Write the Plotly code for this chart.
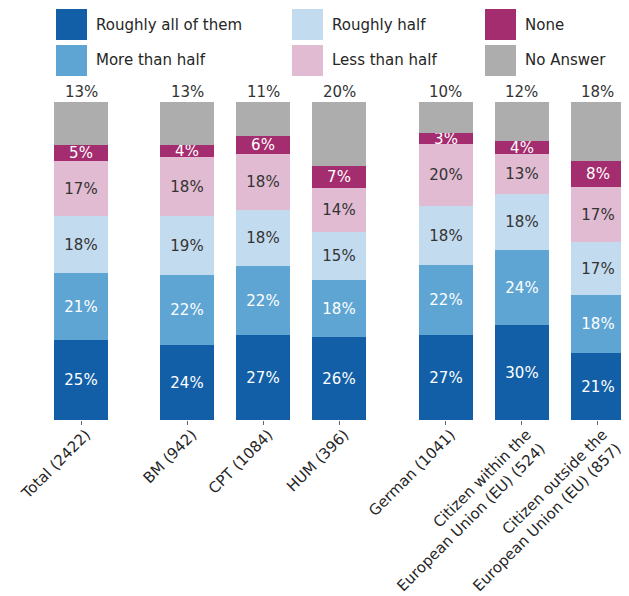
import plotly.graph_objs as go

# categories, grouped (gap between groups)
groups = [
    ["Total (2422)"],
    ["BM (942)", "CPT (1084)", "HUM (396)"],
    ["German (1041)", "Citizen within the<br>European Union (EU) (524)",
     "Citizen outside the<br>European Union (EU) (857)"],
]

series_names = ["Roughly all of them", "More than half", "Roughly half",
                "Less than half", "None", "No Answer"]

# percent values (bottom to top of each stack)
roughly_all = [25.2, 23.6, 26.7, 26.1, 26.6, 29.9, 21.1]
more_than_half = [21.1, 22.0, 21.8, 17.9, 22.3, 23.6, 18.2]
roughly_half = [17.9, 18.6, 17.6, 15.1, 18.4, 17.6, 16.8]
less_than_half = [17.3, 18.4, 17.6, 13.8, 19.6, 12.6, 17.3]
none_ = [5.0, 4.0, 5.6, 6.9, 3.4, 4.1, 8.2]
no_answer = [13.4, 13.4, 10.7, 20.1, 9.7, 12.2, 18.4]

series_values = [roughly_all, more_than_half, roughly_half,
                 less_than_half, none_, no_answer]

colors = ["#125FA8", "#5EA5D3", "#C3DBEF", "#E0BBD1", "#A32D6E", "#ADADAD"]
text_colors = ["white", "white", "#333333", "#333333", "white", "#333333"]

# page body has an 8px margin, so the figure is drawn 8px smaller
OFF = 8
W, H = 629 - OFF, 596 - OFF
TOP, BOTTOM = 102 - OFF, 176  # plot area margins in px
FONT = "DejaVu Sans"

# x positions: one unit per bar, extra gap between groups
labels, xpos = [], []
i = 0
for g, grp in enumerate(groups):
    for name in grp:
        labels.append(name)
        xpos.append(i + 0.4 * g)
        i += 1

fig = go.Figure()
for k, (name, vals) in enumerate(zip(series_names, series_values)):
    show_text = k < 5  # top segment label is drawn above the bar
    fig.add_trace(go.Bar(
        x=xpos,
        y=vals,
        name=name,
        width=0.71,
        marker=dict(color=colors[k], line=dict(width=0)),
        text=["{:.0f}%".format(v) for v in vals] if show_text else None,
        textposition="inside" if show_text else "none",
        insidetextanchor="middle",
        textangle=0,
        textfont=dict(family=FONT, size=15, color=text_colors[k]),
        hoverinfo="x+y",
        showlegend=False,
    ))

# labels above each bar for "No Answer"
for x, v in zip(xpos, no_answer):
    fig.add_annotation(x=x, y=100, text="{:.0f}%".format(v), showarrow=False,
                       yanchor="bottom", xanchor="center", yshift=-1,
                       font=dict(family=FONT, size=15, color="#333333"))

# custom legend (3 columns x 2 rows, column-major), coords in reference px
plot_h = H - TOP - BOTTOM


def px_x(px):
    return (px - OFF) / W


def px_y(py):
    return (H - BOTTOM - (py - OFF)) / plot_h


col_x = [56, 292, 485]
row_y = [9, 45]
sq = 31
for k, name in enumerate(series_names):
    cx = col_x[k // 2]
    ry = row_y[k % 2]
    fig.add_shape(type="rect", xref="paper", yref="paper",
                  x0=px_x(cx), x1=px_x(cx + sq), y0=px_y(ry + sq), y1=px_y(ry),
                  fillcolor=colors[k], line=dict(width=0))
    fig.add_annotation(xref="paper", yref="paper", x=px_x(cx + sq + 7),
                       y=px_y(ry + sq / 2), text=name, showarrow=False,
                       xanchor="left", yanchor="middle",
                       font=dict(family=FONT, size=15, color="#262626"))

fig.update_layout(
    width=W, height=H,
    barmode="stack",
    bargap=0,
    margin=dict(l=0, r=0, t=TOP, b=BOTTOM, autoexpand=False),
    paper_bgcolor="white",
    plot_bgcolor="white",
    uniformtext=dict(minsize=15, mode="show"),
    font=dict(family=FONT, size=15, color="#262626"),
    xaxis=dict(
        range=[-(81 - OFF) / 76, (W - (81 - OFF)) / 76],
        tickvals=xpos,
        ticktext=labels,
        tickangle=-45,
        ticks="outside",
        ticklen=4,
        tickcolor="#666666",
        ticklabelshift=5,
        ticklabelstandoff=-5,
        showgrid=False,
        zeroline=False,
        showline=False,
        automargin=False,
        tickfont=dict(family=FONT, size=15, color="#262626"),
    ),
    yaxis=dict(range=[0, 100], visible=False, showgrid=False, zeroline=False),
)

fig.write_html("out.html")
